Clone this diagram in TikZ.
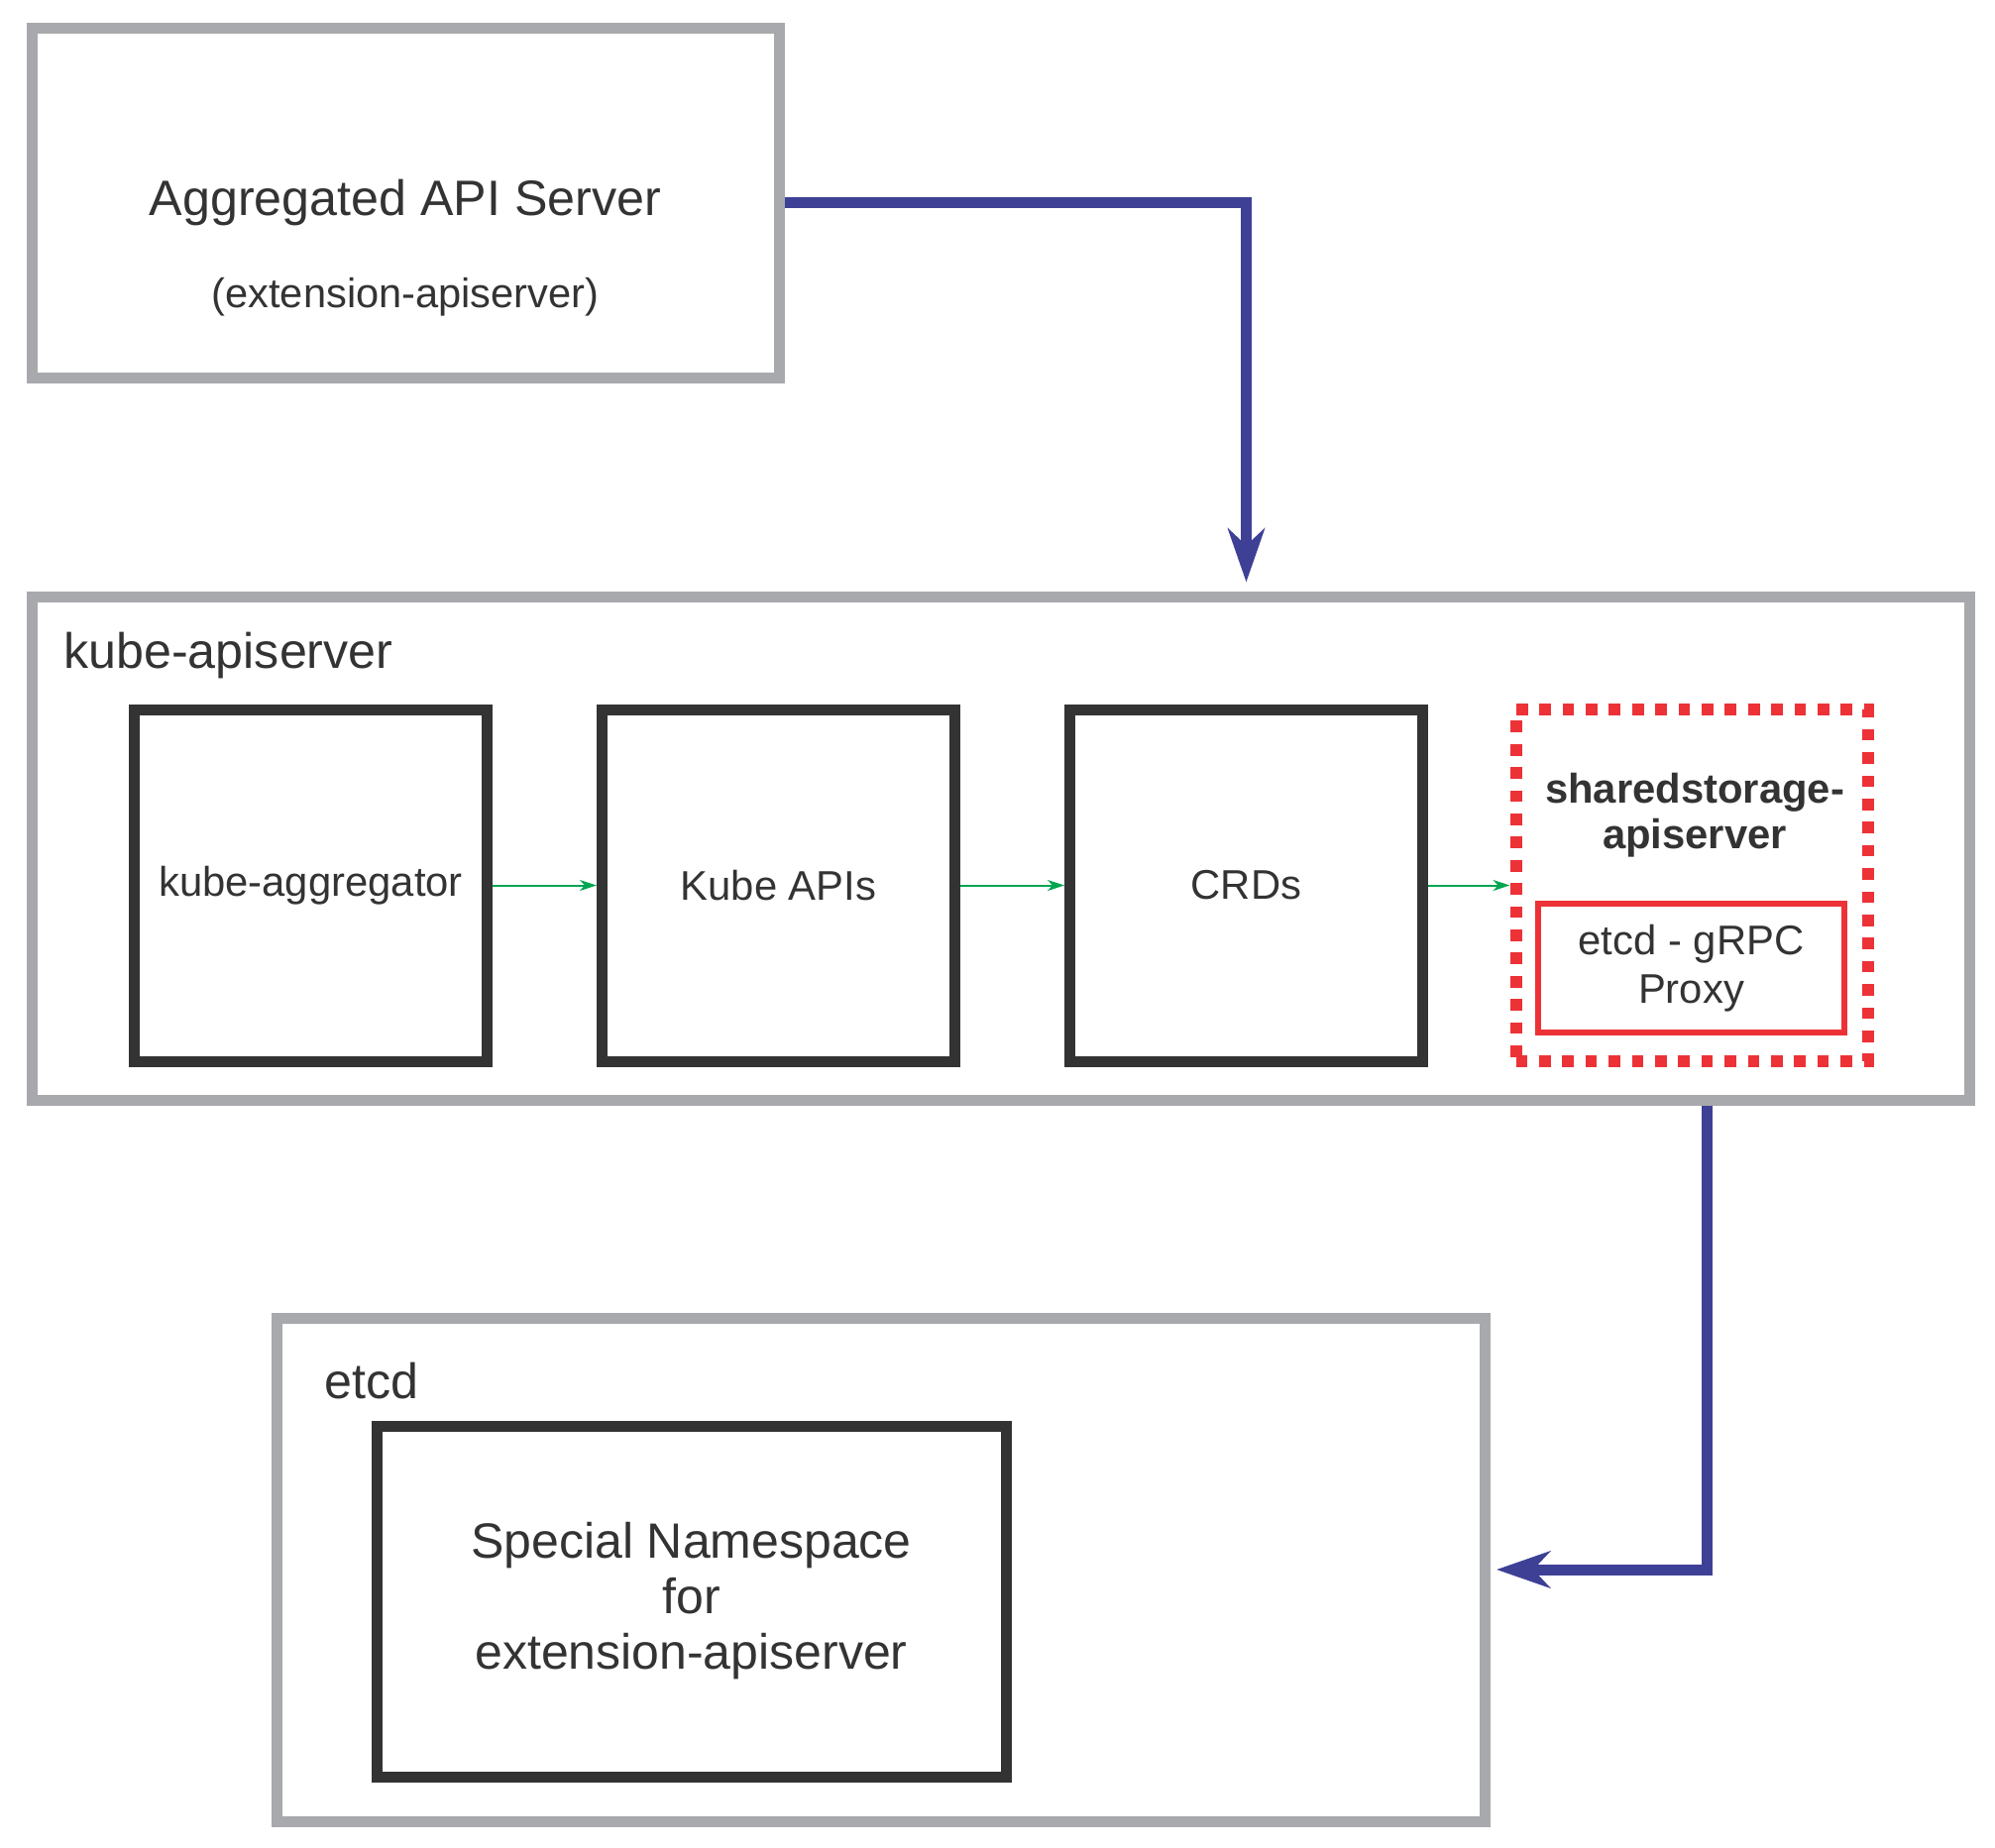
\documentclass[tikz,border=0pt]{standalone}
\usepackage{fontspec}
\setmainfont{Liberation Sans}
\usetikzlibrary{arrows.meta, positioning}

\definecolor{boxgray}{HTML}{A7A9AC}
\definecolor{boxdark}{HTML}{333333}
\definecolor{proxyred}{HTML}{EC3237}
\definecolor{linkblue}{HTML}{3E4095}
\definecolor{flowgreen}{HTML}{00A651}

\begin{document}
\begin{tikzpicture}[
  x=0.5pt, y=-0.5pt,
  text=boxdark,
  font=\fontsize{25.1}{28}\selectfont,
  graybox/.style={
    rectangle,
    draw=boxgray, line width=5.5pt,
    inner sep=0pt,
    align=center
  },
  darkbox/.style={
    rectangle,
    draw=boxdark, line width=5.5pt,
    minimum width=178pt, minimum height=177.5pt,
    inner sep=0pt,
    font=\fontsize{20.9}{23}\selectfont,
    align=center
  },
  dotbox/.style={
    rectangle,
    draw=proxyred, line width=6pt,
    dash pattern=on 5.85pt off 5.85pt,
    minimum width=177.5pt, minimum height=177.5pt,
    inner sep=0pt
  },
  redbox/.style={
    rectangle,
    draw=proxyred, line width=2.75pt,
    minimum width=154.5pt, minimum height=65pt,
    inner sep=0pt,
    font=\fontsize{20.9}{24.5}\selectfont,
    align=center
  },
  label/.style={anchor=west, inner sep=0pt},
  arrow/.style={
    -{Stealth[length=8.5pt, width=5.5pt, inset=2.5pt]},
    draw=flowgreen, line width=1pt
  },
  bigarrow/.style={
    -{Stealth[length=27pt, width=18.5pt, inset=8.5pt]},
    draw=linkblue, line width=5.5pt,
    shorten >=4.5pt
  }
]
\useasboundingbox (0,0) rectangle (2013,1864);

% top: the extension server
\node[graybox, minimum width=377pt, minimum height=176.5pt] (agg) at (409,204.5) {Aggregated API Server};
\node[font=\fontsize{20.8}{24}\selectfont] (aggsub) at (409,300) {(extension-apiserver)};

% kube-apiserver and its chain
\node[graybox, minimum width=977.5pt, minimum height=254pt] (kube) at (1009.5,856) {};
\node[label] (kubelbl) at (64,662) {kube-apiserver};

\node[darkbox] (kagg) at (313.5,893.5) {kube-aggregator};
\node[darkbox, right=52.5pt of kagg] (kapi) {Kube APIs};
\node[darkbox, right=52.5pt of kapi] (crd) {CRDs};
\node[dotbox, right=41.25pt of crd] (shared) {};
\node[font=\fontsize{20.9}{23}\selectfont\bfseries, align=center] (sharedlbl) at (1710,823) {sharedstorage-\\apiserver};
\node[redbox] (proxy) at (1706.5,977) {etcd - gRPC\\Proxy};

% etcd
\node[graybox, minimum width=609.5pt, minimum height=254pt] (etcd) at (888.5,1584) {};
\node[label] (etcdlbl) at (327,1394) {etcd};
\node[darkbox, minimum width=317.5pt, minimum height=177pt, font=\fontsize{25}{28}\selectfont] (ns) at (697.5,1616) {Special Namespace\\for\\extension-apiserver};

\draw[arrow] (kagg) -- (kapi);
\draw[arrow] (kapi) -- (crd);
\draw[arrow] (crd) -- (shared);

\draw[bigarrow] (agg.east) -| (crd |- kube.north);
\draw[bigarrow, shorten >=3.25pt] ([xshift=356.25pt]kube.south) |- (etcd.east);

\end{tikzpicture}
\end{document}
